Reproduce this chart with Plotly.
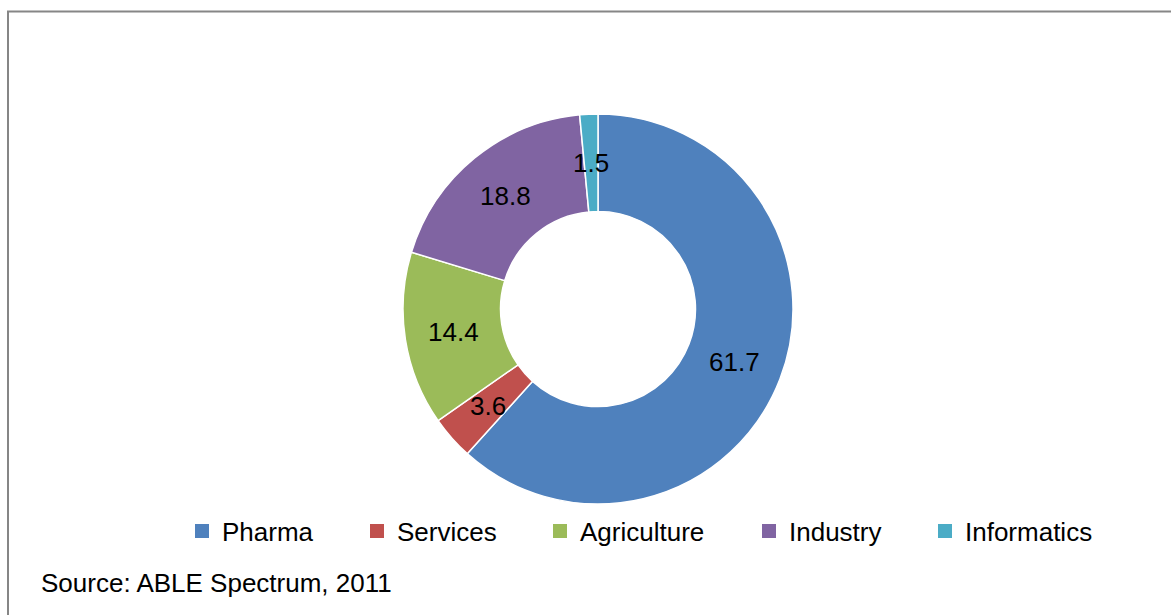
import math
import plotly.graph_objects as go

# ---- data ----
labels = ["Pharma", "Services", "Agriculture", "Industry", "Informatics"]
values = [61.7, 3.6, 14.4, 18.8, 1.5]
colors = ["#4F81BD", "#C0504D", "#9BBB59", "#8064A2", "#4BACC6"]
source_text = "Source: ABLE Spectrum, 2011"

# ---- layout constants (pixels) ----
W, H = 1171, 615
CX, CY = 598, 309
R_OUT = 195
HOLE = 0.5
FONT = "Liberation Sans, Arial, sans-serif"
FS = 26
LEGEND_LEFT_PX = [182, 357, 540, 749, 925]   # legend entry boxes (layout)
LEGEND_Y_PX = 531

fig = go.Figure()
fig.add_trace(go.Pie(
    labels=labels,
    values=values,
    marker=dict(colors=colors, line=dict(color="white", width=1.5)),
    hole=HOLE,
    sort=False,
    direction="clockwise",
    rotation=0,
    textinfo="none",
    hoverinfo="label+value",
    showlegend=False,
    domain=dict(x=[(CX - R_OUT) / W, (CX + R_OUT) / W],
                y=[1 - (CY + R_OUT) / H, 1 - (CY - R_OUT) / H]),
))

# legend entries: one square-marker proxy per category, each in its own legend
legend_layouts = {}
for i, (lab, col) in enumerate(zip(labels, colors)):
    lname = "legend" if i == 0 else f"legend{i + 1}"
    fig.add_trace(go.Scatter(
        x=[None], y=[None], mode="markers", name=lab,
        marker=dict(symbol="square", size=14, color=col),
        legend=lname, showlegend=True, hoverinfo="skip",
    ))
    legend_layouts[lname] = dict(
        orientation="h",
        x=LEGEND_LEFT_PX[i] / W, xanchor="left",
        y=1 - LEGEND_Y_PX / H, yanchor="middle",
        font=dict(family=FONT, size=FS, color="black"),
        bgcolor="rgba(0,0,0,0)",
        itemsizing="trace",
    )

# data labels placed at mid-angle / mid-radius of each slice
total = sum(values)
r_lab = R_OUT * (1 + HOLE) / 2
cum = 0.0
annotations = []
for v in values:
    mid = (cum + v / 2) / total * 2 * math.pi
    cum += v
    px = CX + r_lab * math.sin(mid)
    py = CY - r_lab * math.cos(mid)
    annotations.append(dict(
        x=px / W, y=1 - py / H, xref="paper", yref="paper",
        text=f"{v:g}", showarrow=False, xanchor="center", yanchor="middle",
        font=dict(family=FONT, size=FS, color="black"),
    ))

annotations.append(dict(
    x=39 / W, y=1 - 583 / H, xref="paper", yref="paper",
    text=source_text, showarrow=False, xanchor="left", yanchor="middle",
    font=dict(family=FONT, size=FS, color="black"),
))

fig.update_layout(
    width=W, height=H,
    margin=dict(l=0, r=0, t=0, b=0),
    paper_bgcolor="white",
    plot_bgcolor="rgba(0,0,0,0)",
    showlegend=True,
    xaxis=dict(visible=False),
    yaxis=dict(visible=False),
    annotations=annotations,
    shapes=[
        dict(type="rect", xref="paper", yref="paper",
             x0=8 / W, x1=1.2, y0=-0.2, y1=1 - 11.5 / H,
             line=dict(color="#868686", width=2), fillcolor="rgba(0,0,0,0)",
             layer="below"),
    ],
    **legend_layouts,
)

fig.write_html("out.html")
